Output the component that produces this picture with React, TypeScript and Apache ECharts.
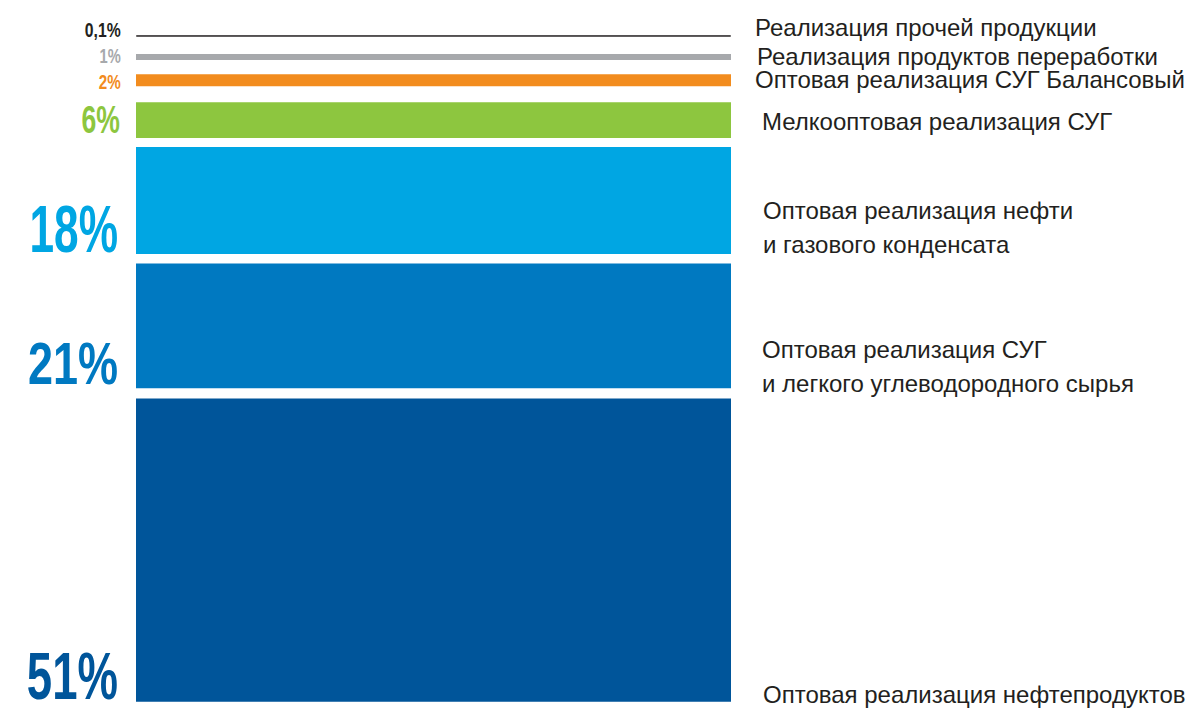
import React, { useEffect, useRef } from "react";
import * as echarts from "echarts";

// Segments from bottom to top
const categories = ["Структура выручки"];
const segmentNames = [
  "Оптовая реализация нефтепродуктов",
  "Оптовая реализация СУГ\nи легкого углеводородного сырья",
  "Оптовая реализация нефти\nи газового конденсата",
  "Мелкооптовая реализация СУГ",
  "Оптовая реализация СУГ Балансовый",
  "Реализация продуктов переработки",
  "Реализация прочей продукции",
];
const segmentValues = [51, 21, 18, 6, 2, 1, 0.1];
const segmentLabels = ["51%", "21%", "18%", "6%", "2%", "1%", "0,1%"];
// visual spacing between stacked segments (in % units)
const gapValues = [1.7, 1.6, 1.5, 2.7, 2.4, 3.0];

const colors = ["#00559a", "#0079c1", "#00a6e3", "#8dc63f", "#f28c1e", "#a7a9ac", "#231f20"];

// percentage label styling per segment (style only): anchor 'bottom' or 'center' of the bar
const labelStyles = [
  { fontSize: 66, scaleX: 0.69, x: 118, anchor: "bottom", dy: -25.2 },
  { fontSize: 60, scaleX: 0.75, x: 118, anchor: "bottom", dy: -24.9 },
  { fontSize: 67, scaleX: 0.66, x: 118, anchor: "bottom", dy: -24.9 },
  { fontSize: 38, scaleX: 0.7, x: 120, anchor: "center", dy: -0.6 },
  { fontSize: 19.5, scaleX: 0.78, x: 120.7, anchor: "center", dy: 1.7 },
  { fontSize: 21, scaleX: 0.7, x: 120.7, anchor: "center", dy: -1.2 },
  { fontSize: 21, scaleX: 0.75, x: 120.7, anchor: "center", dy: -6.7 },
];

// name text positions (style only)
const namePos = [
  { x: 763, y: 694 },
  { x: 762, y: 366.7 },
  { x: 763, y: 227.2 },
  { x: 762, y: 121.7 },
  { x: 755, y: 79.7 },
  { x: 757, y: 56 },
  { x: 755, y: 27.3 },
];

const pctFont = "'Liberation Sans', Arial, sans-serif";
const nameFont = "'Liberation Sans', Arial, sans-serif";

export default function App() {
  const ref = useRef<HTMLDivElement>(null);
  useEffect(() => {
    if (!ref.current) return;
    const chart = echarts.init(ref.current, undefined, { renderer: "svg" });
    const series: any[] = [];
    segmentValues.forEach((v, i) => {
      series.push({
        name: segmentNames[i].replace("\n", " "),
        type: "bar",
        stack: "total",
        barWidth: "100%",
        data: [v],
        itemStyle: {
          color: colors[i],
          borderColor: colors[i],
          borderWidth: i === 6 ? 1 : 0,
        },
        label: { show: false },
        silent: true,
      });
      if (i < gapValues.length) {
        series.push({
          name: "gap" + i,
          type: "bar",
          stack: "total",
          barWidth: "100%",
          data: [gapValues[i]],
          itemStyle: { color: "rgba(0,0,0,0)" },
          label: { show: false },
          silent: true,
        });
      }
    });
    chart.setOption({
      animation: false,
      backgroundColor: "#ffffff",
      grid: { left: 136, right: 455, top: 0, bottom: 7.3 },
      xAxis: {
        type: "category",
        data: categories,
        show: false,
        boundaryGap: true,
      },
      yAxis: { type: "value", min: 0, max: 118, show: false },
      series,
    });

    // percentage labels positioned through the value axis
    const pctGraphics: any[] = [];
    let cum = 0;
    segmentValues.forEach((v, i) => {
      const bottom = cum;
      const top = cum + v;
      cum = top + (i < gapValues.length ? gapValues[i] : 0);
      const yb = chart.convertToPixel({ gridIndex: 0 }, [0, bottom])[1];
      const yt = chart.convertToPixel({ gridIndex: 0 }, [0, top])[1];
      const ls = labelStyles[i];
      const anchorY = ls.anchor === "bottom" ? yb : (yb + yt) / 2;
      pctGraphics.push({
        type: "text",
        x: ls.x,
        y: anchorY + ls.dy,
        scaleX: ls.scaleX,
        silent: true,
        style: {
          text: segmentLabels[i],
          fill: colors[i],
          fontSize: ls.fontSize,
          fontFamily: pctFont,
          fontWeight: "bold",
          align: "right",
          verticalAlign: "middle",
        },
      });
    });

    const nameGraphics = segmentNames.map((n, i) => ({
      type: "text",
      x: namePos[i].x,
      y: namePos[i].y,
      silent: true,
      style: {
        text: n,
        fill: "#231f20",
        fontSize: 24,
        fontFamily: nameFont,
        lineHeight: n.includes("\n") ? 34 : 22,
        align: "left",
        verticalAlign: "middle",
      },
    }));

    chart.setOption({ graphic: [...pctGraphics, ...nameGraphics] });
    return () => chart.dispose();
  }, []);
  return (
    <div
      ref={ref}
      style={{ position: "fixed", left: 0, top: 0, width: 1186, height: 709, background: "#fff" }}
    />
  );
}
